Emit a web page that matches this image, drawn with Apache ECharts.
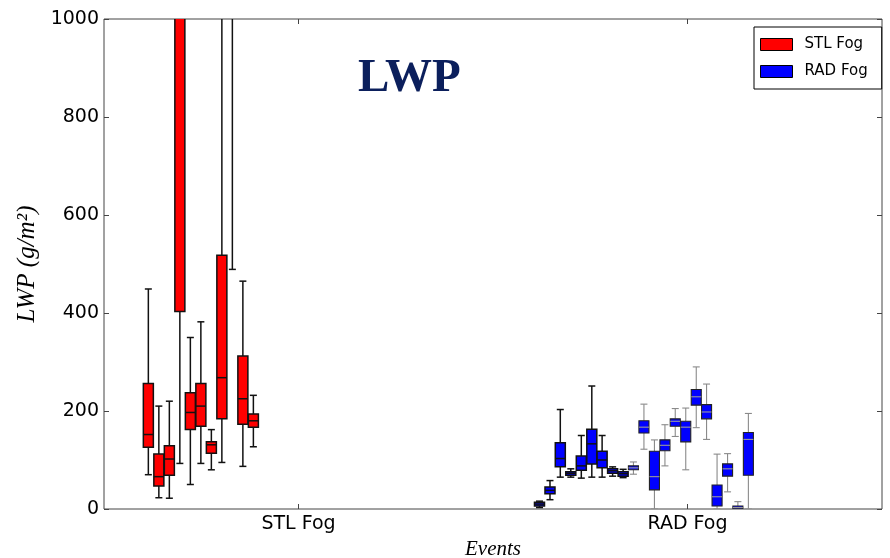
<!DOCTYPE html>
<html>
<head>
<meta charset="utf-8">
<script src="https://cdn.jsdelivr.net/npm/echarts@6/dist/echarts.min.js"></script>
<style>html,body{margin:0;padding:0;background:#fff}#c{width:890px;height:558px}</style>
</head>
<body>
<div id="c"></div>
<script>
// Category labels on the x axis
const categories = ['STL Fog', 'RAD Fog'];
const yTicks = { min: 0, max: 1000, interval: 200 };

// Box positions on a 0..4 event scale (category centres at 1 and 3)
const stlPos = [0.228, 0.282, 0.336, 0.390, 0.444, 0.498, 0.552, 0.606, 0.660, 0.714, 0.768];
// [low whisker, Q1, median, Q3, high whisker]
const stlBoxes = [
  [70, 126, 152, 256, 449],
  [23, 47, 66, 112, 210],
  [22, 69, 102, 129, 220],
  [93, 403, 1100, 1500, 2500],
  [50, 162, 197, 237, 350],
  [93, 169, 210, 256, 382],
  [80, 114, 131, 137, 162],
  [95, 184, 268, 518, 1300],
  [489, 1050, 1200, 1400, 1800],
  [87, 173, 225, 312, 465],
  [127, 167, 180, 194, 232]
];

const radPos = [2.239, 2.293, 2.346, 2.400, 2.454, 2.508, 2.561, 2.615, 2.669, 2.722, 2.776,
                2.830, 2.884, 2.937, 2.991, 3.045, 3.098, 3.152, 3.206, 3.259, 3.313];
const radBoxes = [
  [3, 6, 10, 14, 16],
  [19, 31, 38, 45, 58],
  [65, 86, 103, 135, 203],
  [65, 69, 73, 76, 82],
  [63, 79, 88, 108, 150],
  [65, 92, 133, 163, 251],
  [65, 84, 100, 118, 150],
  [67, 73, 78, 82, 86],
  [64, 67, 72, 76, 81],
  [71, 80, 84, 88, 96],
  [122, 155, 167, 180, 214],
  [0, 39, 66, 118, 141],
  [88, 119, 130, 141, 172],
  [148, 169, 179, 184, 205],
  [80, 137, 167, 179, 206],
  [166, 212, 229, 244, 290],
  [142, 184, 198, 213, 255],
  [0, 6, 25, 49, 112],
  [35, 67, 82, 92, 113],
  [0, 0.5, 3, 6, 15],
  [0, 69, 142, 156, 195]
];

function rows(pos, boxes) { return pos.map((p, i) => [p].concat(boxes[i])); }

const BOX_W = 0.0515, CAP_W = 0.036;

function makeRender(fill, whiskerColor, whiskerWidth, boxStroke, boxWidth, medColor) {
  return function (params, api) {
    const x = api.value(0);
    const lo = api.coord([x, api.value(1)]);
    const q1 = api.coord([x, api.value(2)]);
    const md = api.coord([x, api.value(3)]);
    const q3 = api.coord([x, api.value(4)]);
    const hi = api.coord([x, api.value(5)]);
    const bw = api.size([BOX_W, 0])[0];
    const cw = api.size([CAP_W, 0])[0];
    const cx = lo[0];
    const wl = { stroke: whiskerColor, lineWidth: whiskerWidth };
    return {
      type: 'group',
      children: [
        { type: 'line', shape: { x1: cx, y1: lo[1], x2: cx, y2: q1[1] }, style: wl },
        { type: 'line', shape: { x1: cx, y1: q3[1], x2: cx, y2: hi[1] }, style: wl },
        { type: 'line', shape: { x1: cx - cw / 2, y1: lo[1], x2: cx + cw / 2, y2: lo[1] }, style: wl },
        { type: 'line', shape: { x1: cx - cw / 2, y1: hi[1], x2: cx + cw / 2, y2: hi[1] }, style: wl },
        { type: 'rect', shape: { x: cx - bw / 2, y: q3[1], width: bw, height: q1[1] - q3[1] },
          style: { fill: fill, stroke: boxStroke, lineWidth: boxWidth } },
        { type: 'line', shape: { x1: cx - bw / 2, y1: md[1], x2: cx + bw / 2, y2: md[1] },
          style: { stroke: medColor, lineWidth: boxWidth } }
      ]
    };
  };
}

function boxSeries(name, data, fill, render) {
  return {
    name: name, type: 'custom', xAxisIndex: 1, yAxisIndex: 0, clip: true,
    itemStyle: { color: fill },
    encode: { x: 0, y: [1, 2, 3, 4, 5] },
    renderItem: render,
    data: data
  };
}

const radRows = rows(radPos, radBoxes);

const option = {
  animation: false,
  backgroundColor: '#fff',
  grid: { left: 104, right: 8, top: 19, bottom: 49, outerBoundsMode: 'none', containLabel: false,
          show: true, borderColor: '#444', borderWidth: 1, backgroundColor: 'transparent' },
  title: {
    text: 'LWP', left: 353, top: 50,
    textStyle: { fontFamily: 'Liberation Serif', fontWeight: 'bold', fontSize: 47, color: '#0b1f5c' }
  },
  legend: {
    orient: 'vertical', left: 754, top: 27,
    padding: [10, 14, 10, 6], itemGap: 12, itemWidth: 32, itemHeight: 12,
    borderColor: '#000', borderWidth: 1, backgroundColor: '#fff',
    textStyle: { fontFamily: 'DejaVu Sans', fontSize: 15, color: '#000', padding: [0, 0, 0, 7] },
    data: [
      { name: 'STL Fog', icon: 'rect', itemStyle: { color: '#ff0000', borderColor: '#000', borderWidth: 1 } },
      { name: 'RAD Fog', icon: 'rect', itemStyle: { color: '#0000ff', borderColor: '#000', borderWidth: 1 } }
    ]
  },
  xAxis: [
    {
      type: 'category', data: categories, boundaryGap: true, position: 'bottom',
      name: 'Events', nameLocation: 'middle', nameGap: 26,
      nameTextStyle: { fontFamily: 'Liberation Serif', fontStyle: 'italic', fontSize: 21, color: '#000' },
      axisLine: { show: false },
      axisTick: { show: true, inside: true, alignWithLabel: true, length: 5, lineStyle: { color: '#444' } },
      axisLabel: { fontFamily: 'DejaVu Sans', fontSize: 19, color: '#000', margin: 6 },
      splitLine: { show: false }
    },
    { type: 'value', min: 0, max: 4, show: false },
    {
      type: 'category', data: categories, boundaryGap: true, position: 'top',
      axisLine: { show: false }, axisLabel: { show: false },
      axisTick: { show: true, inside: true, alignWithLabel: true, length: 5, lineStyle: { color: '#444' } }
    }
  ],
  yAxis: [
    {
      type: 'value', min: yTicks.min, max: yTicks.max, interval: yTicks.interval,
      name: 'LWP (g/m²)', nameLocation: 'middle', nameGap: 64, nameRotate: 90,
      nameTextStyle: { fontFamily: 'Liberation Serif', fontStyle: 'italic', fontSize: 25, color: '#000' },
      axisLine: { show: false },
      axisTick: { show: true, inside: true, length: 5, lineStyle: { color: '#444' } },
      axisLabel: { fontFamily: 'DejaVu Sans', fontSize: 19, color: '#000', margin: 5,
                   formatter: function (v) { return String(v); } },
      splitLine: { show: false }
    },
    {
      type: 'value', min: yTicks.min, max: yTicks.max, interval: yTicks.interval, position: 'right',
      axisLine: { show: false }, axisLabel: { show: false }, splitLine: { show: false },
      axisTick: { show: true, inside: true, length: 5, lineStyle: { color: '#444' } }
    }
  ],
  series: [
    boxSeries('STL Fog', rows(stlPos, stlBoxes), '#ff0000',
      makeRender('#ff0000', '#111', 1.5, '#111', 1.5, '#111')),
    boxSeries('RAD Fog', radRows.slice(0, 9), '#0000ff',
      makeRender('#0000ff', '#111', 1.5, '#111', 1.5, '#111')),
    boxSeries('RAD Fog', radRows.slice(9), '#0000ff',
      makeRender('#0000ff', '#8a8a8a', 1.1, '#222', 1.1, '#9a9a9a'))
  ]
};

const chart = echarts.init(document.getElementById('c'), null, { renderer: 'canvas' });
chart.setOption(option);
</script>
</body>
</html>
